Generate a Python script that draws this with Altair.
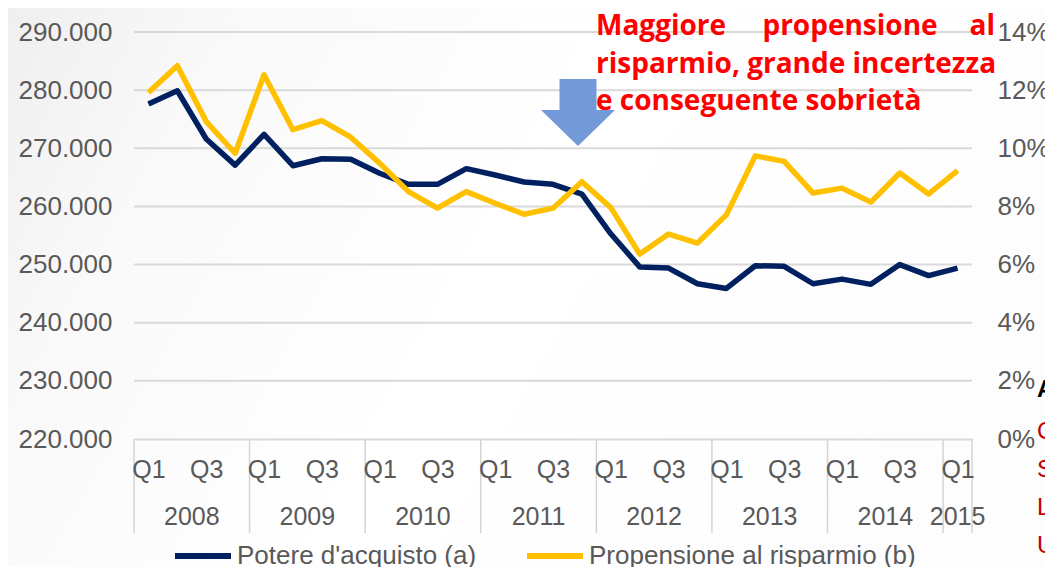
import altair as alt
import pandas as pd

# ---------------- data ----------------
years = ["2008"] * 4 + ["2009"] * 4 + ["2010"] * 4 + ["2011"] * 4 + ["2012"] * 4 + ["2013"] * 4 + ["2014"] * 4 + ["2015"]
quarters = ["Q1", "Q2", "Q3", "Q4"] * 7 + ["Q1"]
potere = [277600, 279900, 271600, 267100,
          272400, 267000, 268200, 268100,
          265700, 263800, 263800, 266500,
          265400, 264200, 263800, 262100,
          255300, 249600, 249400, 246700,
          245900, 249800, 249700, 246700,
          247500, 246600, 250000, 248100,
          249400]
propensione = [11.92, 12.84, 10.92, 9.83,
               12.53, 10.64, 10.95, 10.38,
               9.49, 8.51, 7.94, 8.51,
               8.11, 7.73, 7.94, 8.85,
               7.96, 6.36, 7.05, 6.74,
               7.71, 9.74, 9.55, 8.46,
               8.63, 8.15, 9.15, 8.43,
               9.23]
series_names = ["Potere d'acquisto (a)", "Propensione al risparmio (b)"]
left_ticks = [220000, 230000, 240000, 250000, 260000, 270000, 280000, 290000]
right_ticks = [0, 0.02, 0.04, 0.06, 0.08, 0.10, 0.12, 0.14]
annotation_lines = ["Maggiore propensione al", "risparmio, grande incertezza", "e conseguente sobrietà"]

# ---------------- tables ----------------
n = len(potere)
idx = list(range(n))
df_a = pd.DataFrame({"i": idx, "v": potere, "s": series_names[0], "q": quarters})
df_b = pd.DataFrame({"i": idx, "v": [p / 100 for p in propensione], "s": series_names[1], "q": quarters})

year_order = list(dict.fromkeys(years))
yr_rows, sep_vals = [], []
for y in year_order:
    ii = [k for k, yy in enumerate(years) if yy == y]
    yr_rows.append({"year": y, "c": (ii[0] + ii[-1]) / 2})
    sep_vals.append(ii[0] - 0.5)
sep_vals.append(n - 0.5)
df_years = pd.DataFrame(yr_rows)
df_seps = pd.DataFrame({"b": sep_vals})
df_grid = pd.DataFrame({"g": left_ticks[1:]})
one = pd.DataFrame({"a": [0]})

W, H = 838, 407
PL, PT, PR, PB = 126, 24, 73, 128
FONT = "Liberation Sans"
GREY = "#595959"

xscale = alt.Scale(domain=[-0.5, n - 0.5], nice=False, zero=False)
yl_scale = alt.Scale(domain=[left_ticks[0], left_ticks[-1]], nice=False, zero=False)
yr_scale = alt.Scale(domain=[right_ticks[0], right_ticks[-1]], nice=False, zero=False)
cscale = alt.Scale(domain=series_names, range=["#002060", "#FFC000"])
legend = alt.Legend(title=None, orient="none", legendX=38, legendY=493, direction="horizontal",
                    symbolType="stroke", symbolSize=3136, symbolStrokeWidth=6,
                    labelFont=FONT, labelFontSize=26, labelColor=GREY, labelLimit=0,
                    labelOffset=3, columnPadding=38, padding=0, zindex=1)

x_axis = alt.Axis(values=list(range(0, n, 2)),
                  labelExpr="datum.value % 4 == 0 ? 'Q1' : 'Q3'",
                  labelFont=FONT, labelFontSize=25, labelColor=GREY,
                  labelPadding=18, labelFlush=False, labelOverlap=False,
                  ticks=False, grid=False, domainColor="#d9d9d9", domainWidth=2, zindex=1)

# background gradient
bg = alt.Chart(one).mark_rect(
    color=alt.LinearGradient(gradient="linear", x1=0, x2=1, y1=0, y2=0.3,
                             stops=[alt.GradientStop(color="#efefef", offset=0),
                                    alt.GradientStop(color="#f9f9f9", offset=0.2),
                                    alt.GradientStop(color="#ffffff", offset=0.55),
                                    alt.GradientStop(color="#fdfdfd", offset=1)])
).encode(x=alt.value(-PL), x2=alt.value(W + PR), y=alt.value(-PT), y2=alt.value(H + PB))

grid = alt.Chart(df_grid).mark_rule(color="#d9d9d9", strokeWidth=2).encode(
    y=alt.Y("g:Q", scale=yl_scale, axis=None),
    x=alt.value(0), x2=alt.value(W))

seps = alt.Chart(df_seps).mark_rule(color="#d4d4d4", strokeWidth=1.5).encode(
    x=alt.X("b:Q", scale=xscale, axis=x_axis, title=None),
    y=alt.value(H), y2=alt.value(H + 94))

year_text = alt.Chart(df_years).mark_text(font=FONT, fontSize=25, color=GREY, baseline="middle").encode(
    x=alt.X("c:Q", scale=xscale, axis=x_axis, title=None),
    y=alt.value(485), text="year:N")

line_a = alt.Chart(df_a).mark_line(strokeWidth=5.5, strokeJoin="round").encode(
    x=alt.X("i:Q", scale=xscale, title=None, axis=x_axis),
    y=alt.Y("v:Q", scale=yl_scale, title=None,
            axis=alt.Axis(orient="left", values=left_ticks,
                          labelExpr="replace(format(datum.value, ',.0f'), ',', '.')",
                          labelFont=FONT, labelFontSize=26, labelColor=GREY, labelPadding=22,
                          ticks=False, domain=False, grid=False, zindex=1)),
    color=alt.Color("s:N", scale=cscale, legend=legend))

line_b = alt.Chart(df_b).mark_line(strokeWidth=5.5, strokeJoin="round").encode(
    x=alt.X("i:Q", scale=xscale, title=None, axis=x_axis),
    y=alt.Y("v:Q", scale=yr_scale, title=None,
            axis=alt.Axis(orient="right", values=right_ticks, format=".0%",
                          labelFont=FONT, labelFontSize=26, labelColor=GREY, labelPadding=25,
                          ticks=False, domain=False, grid=False, zindex=1)),
    color=alt.Color("s:N", scale=cscale, legend=legend))

arrow_path = "M -0.5 -0.905 L 0.5 -0.905 L 0.5 -0.07 L 1 -0.07 L 0 0.905 L -1 -0.07 L -0.5 -0.07 Z"
arrow = alt.Chart(one).mark_point(shape=arrow_path, size=5476, filled=True, fill="#7399d9",
                                  opacity=1, strokeWidth=0).encode(
    x=alt.value(444), y=alt.value(80.5))

AF = "Open Sans"
ACOL = "#ff0000"
AFS = 28
w1 = annotation_lines[0].split(" ")


def atext(t, x, y, align):
    return alt.Chart(one).mark_text(text=t, font=AF, fontSize=AFS, fontWeight="bold", color=ACOL,
                                    align=align, baseline="alphabetic").encode(x=alt.value(x), y=alt.value(y))


ann = [
    atext(w1[0], 462, 3, "left"),
    atext(w1[1], 716, 3, "center"),
    atext(w1[2], 861, 3, "right"),
    atext(annotation_lines[1], 462, 41, "left"),
    atext(annotation_lines[2], 462, 78, "left"),
]

cut = [
    alt.Chart(one).mark_text(text="(", font=FONT, fontSize=26, color=GREY, align="left", baseline="middle").encode(
        x=alt.value(910), y=alt.value(258)),
    alt.Chart(one).mark_text(text="[", font=FONT, fontSize=26, color=GREY, align="left", baseline="middle").encode(
        x=alt.value(910), y=alt.value(293)),
    alt.Chart(one).mark_text(text="A", font=FONT, fontSize=24, fontWeight="bold", color="#000000",
                             align="left", baseline="middle").encode(x=alt.value(903), y=alt.value(358)),
]
for k, ch in enumerate(["C", "S", "L", "U"]):
    cut.append(alt.Chart(one).mark_text(text=ch, font=FONT, fontSize=24, color="#c00000",
                                        align="left", baseline="middle").encode(
        x=alt.value(903), y=alt.value(400 + 38 * k)))

chart = alt.layer(bg, grid, seps, year_text, line_a, line_b, arrow, *ann, *cut).resolve_scale(
    y="independent"
).properties(
    width=W, height=H,
    padding={"left": PL, "top": PT, "right": PR, "bottom": PB},
    autosize=alt.AutoSizeParams(type="none"),
    background="#ffffff",
).configure_view(stroke=None)

chart.save("out.html", embed_options={"renderer": "svg", "actions": False})
